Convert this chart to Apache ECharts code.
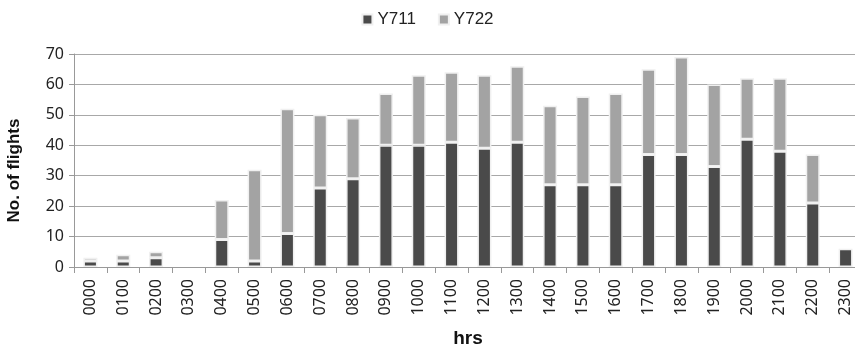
<!DOCTYPE html>
<html><head><meta charset="utf-8">
<script src="https://cdn.jsdelivr.net/npm/echarts@6/dist/echarts.min.js"></script>
<style>html,body{margin:0;padding:0;background:#fff}#c{width:855px;height:348px}</style>
</head><body><div id="c"></div>
<script>
const categories = ['0000','0100','0200','0300','0400','0500','0600','0700','0800','0900','1000','1100','1200','1300','1400','1500','1600','1700','1800','1900','2000','2100','2200','2300'];
const y711 = [2,2,3,0,9,2,11,26,29,40,40,41,39,41,27,27,27,37,37,33,42,38,21,6];
const y722 = [1,2,2,0,13,30,41,24,20,17,23,23,24,25,26,29,30,28,32,27,20,24,16,0];
const yTicks = [0,10,20,30,40,50,60,70];

const font = 'Noto Sans';
const bold = 'Liberation Sans';
const nz = arr => arr.map(v => v === 0 ? null : v);
const chart = echarts.init(document.getElementById('c'));
chart.setOption({
  animation: false,
  textStyle: {fontFamily: font},
  legend: {
    top: 6, left: 'center', itemWidth: 10, itemHeight: 10, itemGap: 22,
    icon: 'rect',
    textStyle: {fontSize: 17, color: '#222', fontFamily: bold},
    data: ['Y711','Y722']
  },
  grid: {left: 74, top: 54, width: 788, height: 213, outerBoundsMode: 'none', containLabel: false},
  xAxis: {
    type: 'category', data: categories,
    name: 'hrs', nameLocation: 'middle', nameGap: 62, nameMoveOverlap: false,
    nameTextStyle: {fontSize: 19, fontWeight: 'bold', color: '#111', fontFamily: bold, verticalAlign: 'top'},
    axisLine: {lineStyle: {color: '#999'}},
    axisTick: {show: true, length: 6, lineStyle: {color: '#999'}},
    axisLabel: {rotate: 90, fontSize: 16, color: '#222', margin: 12, fontFamily: font}
  },
  yAxis: {
    type: 'value', min: yTicks[0], max: yTicks[yTicks.length-1], interval: 10,
    name: 'No. of flights', nameLocation: 'middle', nameGap: 51, nameMoveOverlap: false,
    nameTextStyle: {fontSize: 17, fontWeight: 'bold', color: '#111', fontFamily: bold, padding: [0, 20, 0, 0]},
    axisLine: {show: true, lineStyle: {color: '#999'}},
    axisTick: {show: true, length: 5, lineStyle: {color: '#999'}},
    axisLabel: {fontSize: 16, color: '#222', margin: 10, fontFamily: font},
    splitLine: {lineStyle: {color: '#a8a8a8'}}
  },
  series: [
    {name: 'Y711', type: 'bar', stack: 's', data: nz(y711), barWidth: 14,
     itemStyle: {color: '#4a4a4a', borderColor: '#f0f0f0', borderWidth: 1.5}},
    {name: 'Y722', type: 'bar', stack: 's', data: nz(y722), barWidth: 14,
     itemStyle: {color: '#a3a3a3', borderColor: '#f0f0f0', borderWidth: 1.5}}
  ]
});
</script></body></html>
